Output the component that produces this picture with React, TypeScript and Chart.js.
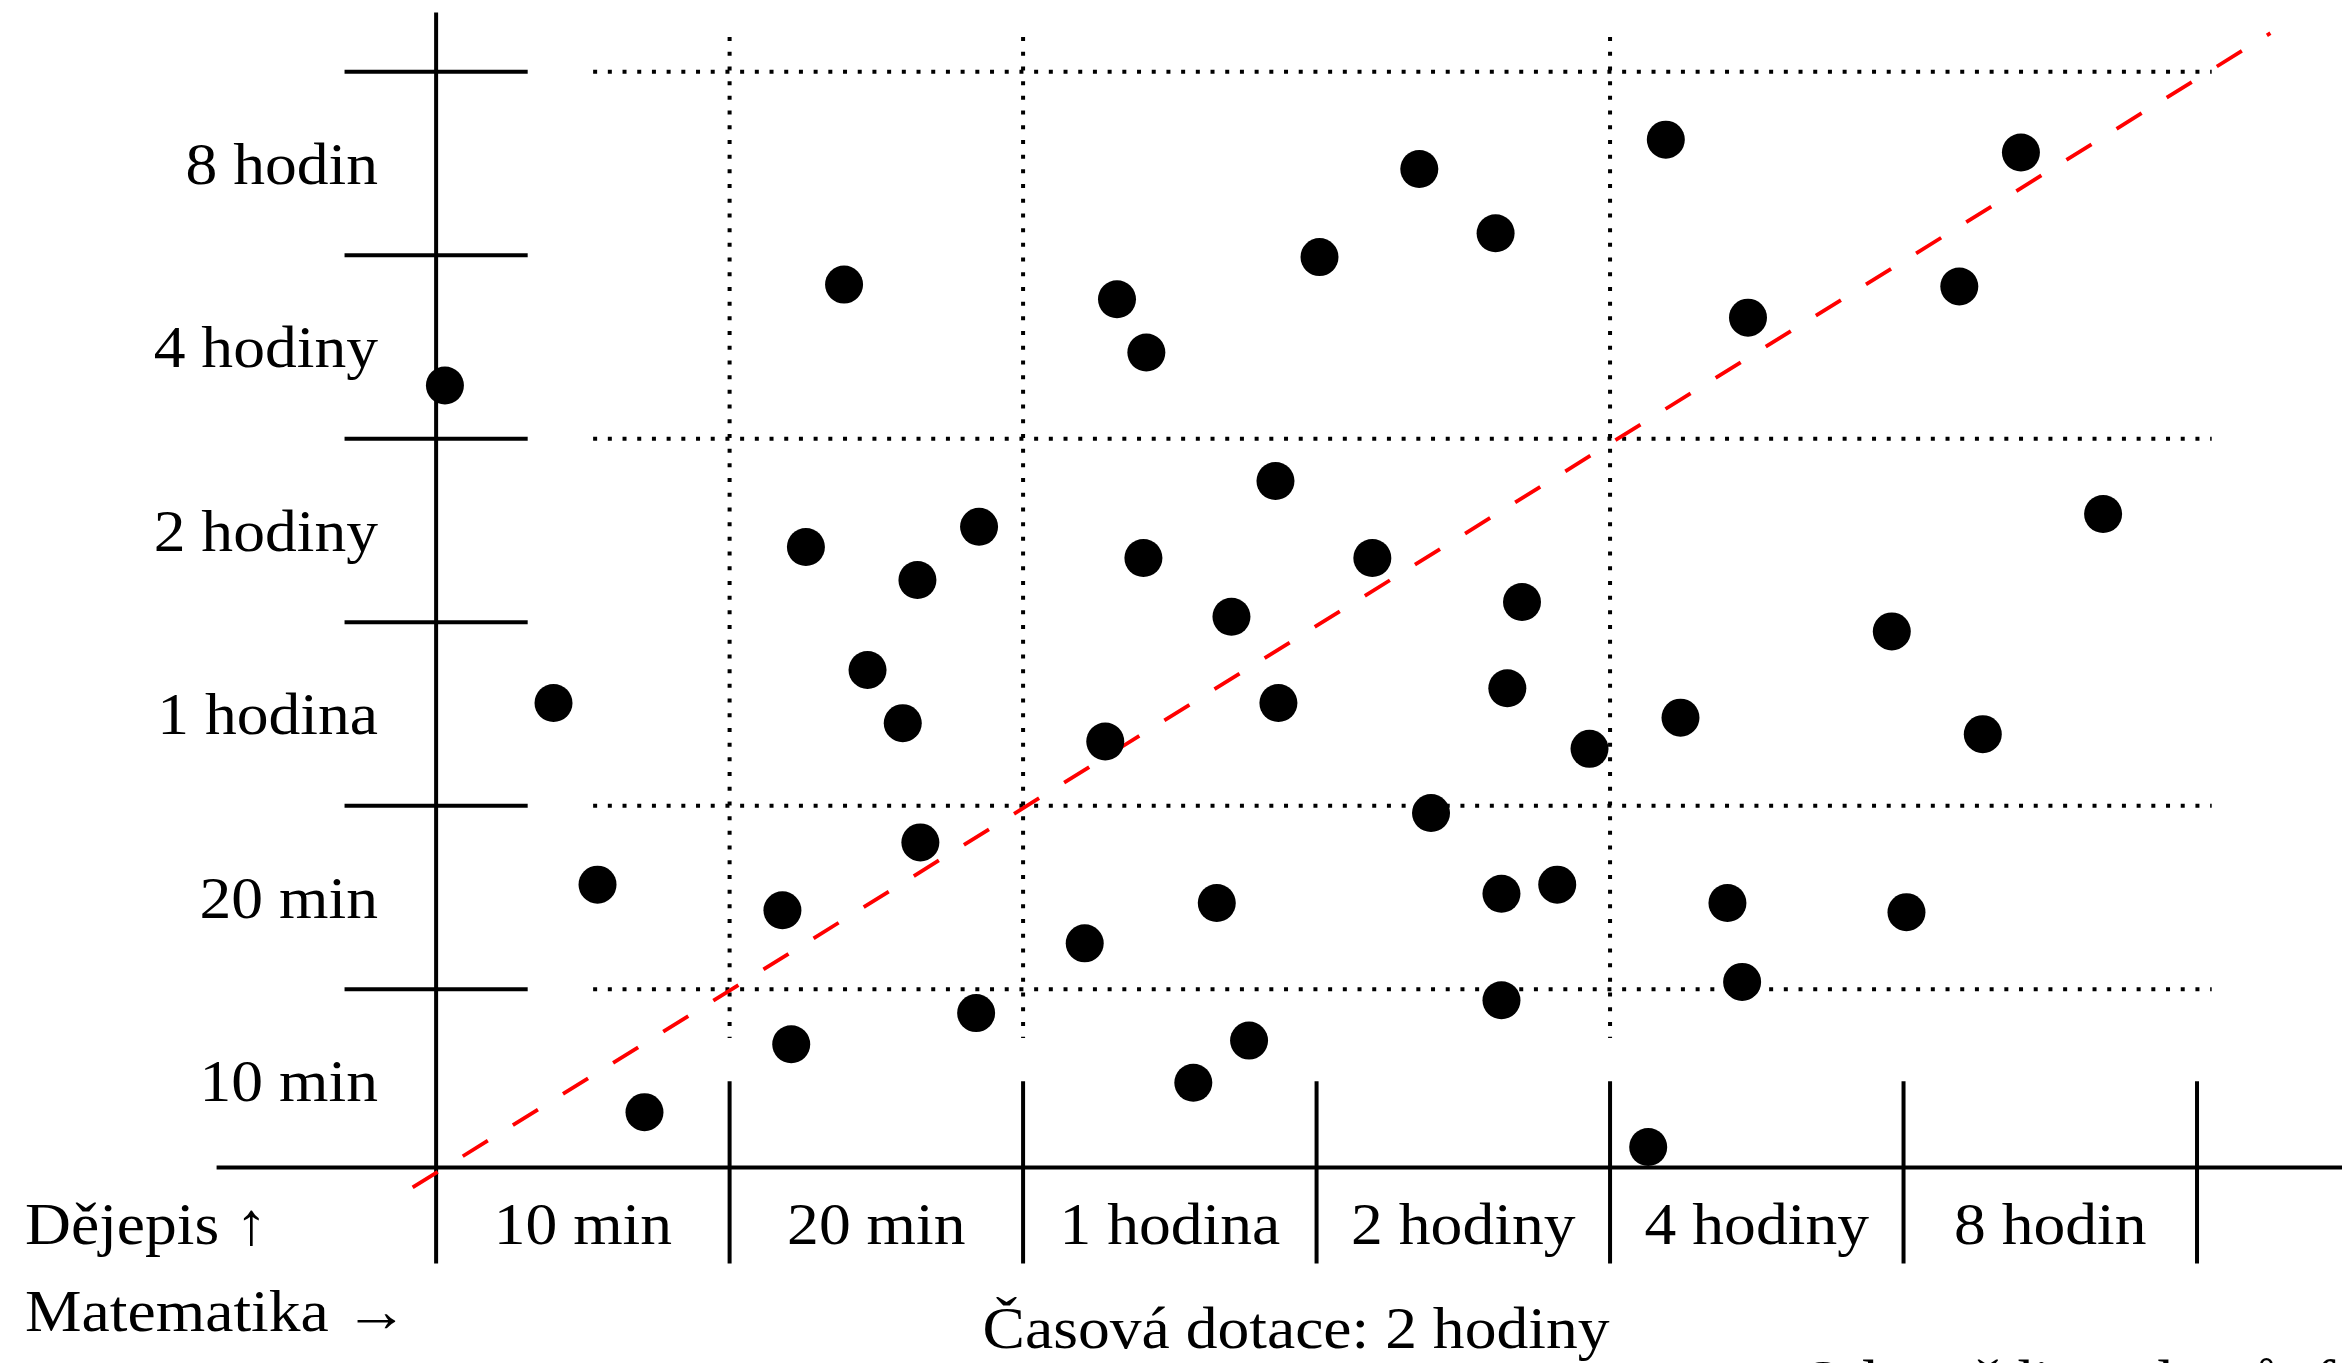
import React, { useEffect, useRef } from "react";
import { Chart, registerables } from "chart.js";

Chart.register(...registerables);

// Category labels (same for both axes)
const timeCategories = ["10 min", "20 min", "1 hodina", "2 hodiny", "4 hodiny", "8 hodin"];

// Axis captions
const yAxisCaption = "Dějepis ↑";
const xAxisCaption = "Matematika →";
const footerCaption = "Časová dotace: 2 hodiny";
const sourceCaption = "Odpovědi studentů, formulář Google";

// Responses, in category units (0 = start of "10 min", 6 = end of "8 hodin")
const mathValues = [
  0.03, 0.4, 0.55, 0.71, 1.39, 1.26, 1.64, 1.85, 1.47, 1.59, 1.65, 1.18,
  1.21, 1.84, 2.32, 2.42, 2.41, 2.86, 2.71, 2.87, 2.28, 2.21, 2.66, 2.58,
  2.77, 3.01, 3.35, 3.61, 3.19, 3.7, 3.65, 3.93, 3.39, 3.63, 3.82, 3.63,
  4.19, 4.47, 4.24, 4.4, 4.45, 4.13, 5.4, 5.19, 5.68, 4.96, 5.27, 5.01,
];
const historyValues = [
  4.29, 2.56, 1.57, 0.33, 4.84, 3.41, 3.23, 3.52, 2.74, 2.45, 1.8, 1.43,
  0.7, 0.87, 4.76, 4.47, 3.35, 3.77, 3.03, 2.56, 2.35, 1.25, 1.47, 0.49,
  0.72, 4.99, 5.47, 5.12, 3.35, 3.11, 2.64, 2.31, 1.96, 1.52, 1.57, 0.94,
  5.63, 4.66, 2.48, 1.47, 1.04, 0.14, 5.56, 4.83, 3.59, 2.95, 2.39, 1.42,
];

// Equal-time reference line
const diagonalX = [-0.08, 6.25];
const diagonalY = [-0.08, 6.21];

// Dotted guide lines (category boundaries)
const dottedRows = [1, 2, 4, 6];
const dottedCols = [1, 2, 4];

const FONT = '60px "Liberation Serif", "DejaVu Serif", serif';
const STRETCH = 1.06;

const decorPlugin = {
  id: "decor",
  beforeDatasetsDraw(chart: any) {
    const ctx: CanvasRenderingContext2D = chart.ctx;
    const xs = chart.scales.x;
    const ys = chart.scales.y;
    const px = (v: number) => xs.getPixelForValue(v);
    const py = (v: number) => ys.getPixelForValue(v);
    const axisY = 0.028;

    ctx.save();
    ctx.strokeStyle = "#000";
    ctx.fillStyle = "#000";

    // dotted guides
    ctx.lineWidth = 4;
    ctx.lineCap = "butt";
    ctx.setLineDash([4, 10.7]);
    dottedRows.forEach((r) => {
      ctx.beginPath();
      ctx.moveTo(px(0.535), py(r));
      ctx.lineTo(px(6.05), py(r));
      ctx.stroke();
    });
    dottedCols.forEach((c) => {
      ctx.beginPath();
      ctx.moveTo(px(c), py(6.189));
      ctx.lineTo(px(c), py(0.734));
      ctx.stroke();
    });
    ctx.setLineDash([]);

    // axes
    ctx.lineWidth = 4;
    ctx.beginPath();
    ctx.moveTo(px(0), py(6.323));
    ctx.lineTo(px(0), py(-0.495));
    ctx.stroke();
    ctx.beginPath();
    ctx.moveTo(px(-0.748), py(axisY));
    ctx.lineTo(px(6.6), py(axisY));
    ctx.stroke();

    // tick marks
    for (let k = 1; k <= timeCategories.length; k++) {
      ctx.beginPath();
      ctx.moveTo(px(-0.312), py(k));
      ctx.lineTo(px(0.312), py(k));
      ctx.stroke();
      ctx.beginPath();
      ctx.moveTo(px(k), py(0.498));
      ctx.lineTo(px(k), py(-0.495));
      ctx.stroke();
    }

    // text
    const text = (s: string, x: number, y: number, align: CanvasTextAlign) => {
      ctx.save();
      ctx.translate(x, y);
      ctx.scale(STRETCH, 1);
      ctx.font = FONT;
      ctx.textAlign = align;
      ctx.textBaseline = "alphabetic";
      ctx.fillText(s, 0, 0);
      ctx.restore();
    };
    timeCategories.forEach((lab, k) => {
      text(lab, px(-0.198), py(k + 0.39), "right");
      text(lab, px(k + 0.5), py(-0.39), "center");
    });
    text(yAxisCaption, 25, py(-0.39), "left");
    text(xAxisCaption, 25, py(-0.865), "left");
    text(footerCaption, px(2.93), py(-0.957), "center");
    text(sourceCaption, px(4.647), py(-1.245), "left");

    ctx.restore();
  },
};

export default function App() {
  const ref = useRef<HTMLCanvasElement | null>(null);

  useEffect(() => {
    document.body.style.margin = "0";
    if (!ref.current) return;
    const points = mathValues.map((x, i) => ({ x, y: historyValues[i] }));
    const diagonal = diagonalX.map((x, i) => ({ x, y: diagonalY[i] }));
    const chart = new Chart(ref.current, {
      type: "scatter",
      data: {
        datasets: [
          {
            type: "line",
            data: diagonal,
            borderColor: "#ff0000",
            borderWidth: 3.8,
            borderDash: [29.5, 29.5],
            pointRadius: 0,
            fill: false,
            order: 2,
          } as any,
          {
            data: points,
            backgroundColor: "#000",
            borderWidth: 0,
            pointRadius: 19,
            pointHoverRadius: 19,
            order: 1,
          },
        ],
      },
      options: {
        animation: false,
        responsive: true,
        maintainAspectRatio: false,
        layout: { padding: 0, autoPadding: false } as any,
        plugins: { legend: { display: false }, tooltip: { enabled: false } },
        events: [],
        scales: {
          x: { type: "linear", min: -1.486, max: 6.494, display: false },
          y: { type: "linear", min: -1.037, max: 6.391, display: false },
        },
      },
      plugins: [decorPlugin],
    });
    return () => chart.destroy();
  }, []);

  return (
    <div style={{ position: "fixed", left: 0, top: 0, width: "100vw", height: "100vh", background: "#fff" }}>
      <canvas ref={ref} />
    </div>
  );
}
